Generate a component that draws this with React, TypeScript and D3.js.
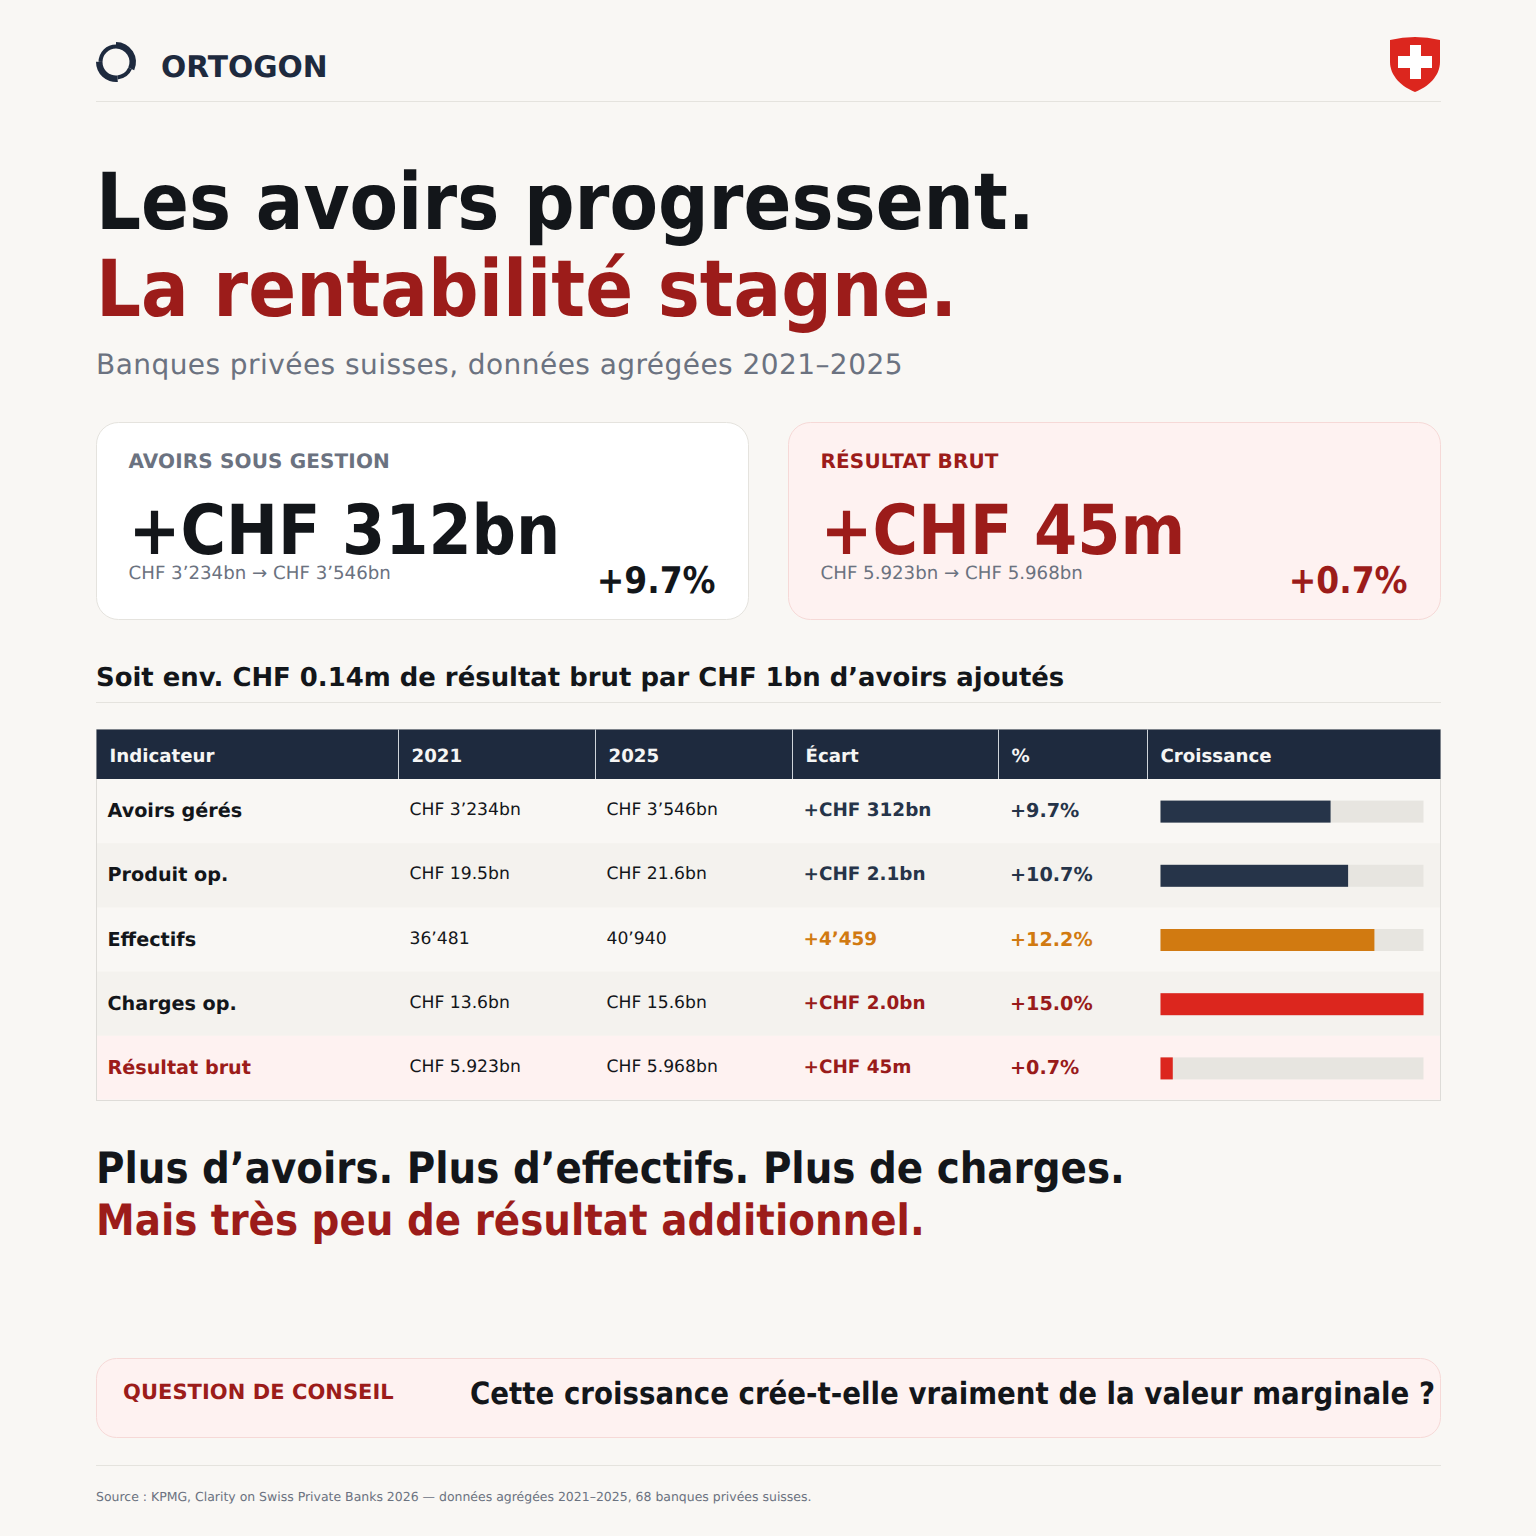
import * as d3 from "d3";

const indicators = ["Avoirs gérés", "Produit op.", "Effectifs", "Charges op.", "Résultat brut"];
const values2021 = ["CHF 3’234bn", "CHF 19.5bn", "36’481", "CHF 13.6bn", "CHF 5.923bn"];
const values2025 = ["CHF 3’546bn", "CHF 21.6bn", "40’940", "CHF 15.6bn", "CHF 5.968bn"];
const gaps = ["+CHF 312bn", "+CHF 2.1bn", "+4’459", "+CHF 2.0bn", "+CHF 45m"];
const growth = [9.7, 10.7, 12.2, 15.0, 0.7];
const headers = ["Indicateur", "2021", "2025", "Écart", "%", "Croissance"];
const textTones = ["#263449", "#263449", "#d17a11", "#991b1b", "#991b1b"];
const barTones = ["#263449", "#263449", "#d17a11", "#dc261e", "#dc261e"];

const SANS = "'DejaVu Sans', sans-serif";
const COND = "'DejaVu Sans Condensed', 'DejaVu Sans', sans-serif";
const INK = "#13161a";
const RED = "#9c1c1a";
const GREY = "#6b7280";
const RULE = "#e5e3de";
const BLUSH = "#fef2f1";
const NAVY = "#1e2a3e";

const COLS = [96.5, 398.5, 595.5, 792.5, 998.5, 1147.5, 1440.5];
const rowY = d3.scaleBand<number>().domain(d3.range(5)).range([779, 1100]);
const barX = d3.scaleLinear().domain([0, 15]).range([1160.5, 1423.5]);

const ringArc = d3.arc<{ a: number; b: number; r: number }>()
  .innerRadius(13.5)
  .outerRadius(d => d.r)
  .startAngle(d => d.a)
  .endAngle(d => d.b);
const ringParts = [
  { a: 0, b: 2.0, r: 20 },
  { a: 2.0, b: 3.05, r: 17.5 },
  { a: 3.05, b: 4.72, r: 20 },
  { a: 4.72, b: 6.2832, r: 17.5 },
];

const KpiCard = ({ x, label, big, sub, pct, accent, fill, stroke, labelFill }: {
  x: number; label: string; big: string; sub: string; pct: string; accent: string; fill: string; stroke: string; labelFill: string;
}) => (
  <g transform={`translate(${x},0)`}>
    <rect x={0.5} y={422.5} width={652} height={197} rx={22} fill={fill} stroke={stroke} />
    <text x={32.5} y={468} fontSize={20} letterSpacing={0.14} fontWeight={700} fill={labelFill}>{label}</text>
    <text x={32.5} y={554} fontFamily={COND} fontSize={69} fontWeight={700} fill={accent}>{big}</text>
    <text x={32.5} y={579} fontSize={18.2} fill={GREY}>{sub}</text>
    <text x={619.5} y={592.5} fontFamily={COND} fontSize={36.6} fontWeight={700} fill={accent} textAnchor="end">{pct}</text>
  </g>
);

export default function App() {
  return (
    <svg width={1536} height={1536} viewBox="0 0 1536 1536" fontFamily={SANS} textRendering="geometricPrecision"
      style={{ position: "absolute", left: 0, top: 0, display: "block" }}>
      <rect width={1536} height={1536} fill="#f9f7f4" />

      {/* header */}
      <g transform="translate(116,62)" fill={NAVY}>
        {ringParts.map((p, i) => <path key={i} d={ringArc(p) ?? ""} />)}
      </g>
      <text x={161} y={77} fontSize={29.7} fontWeight={700} fill={NAVY}>ORTOGON</text>
      <path d="M1390 40Q1415 34 1440 40V62C1440 76 1428 87 1415 92C1402 87 1390 76 1390 62Z" fill="#dc261e" />
      <path d="M1410 45H1421V56H1432V68H1421V79H1410V68H1398V56H1410Z" fill="#fff" />
      <line x1={96} x2={1441} y1={101.5} y2={101.5} stroke={RULE} />

      {/* title */}
      <text x={96} y={229} fontFamily={COND} fontSize={78.6} fontWeight={700} fill={INK}>Les avoirs progressent.</text>
      <text x={96} y={316} fontFamily={COND} fontSize={78.6} fontWeight={700} fill={RED}>La rentabilité stagne.</text>
      <text x={96} y={374} fontSize={28} letterSpacing={0.44} fill={GREY}>Banques privées suisses, données agrégées 2021–2025</text>

      <KpiCard x={96} label="AVOIRS SOUS GESTION" big="+CHF 312bn" sub="CHF 3’234bn → CHF 3’546bn" pct="+9.7%"
        accent={INK} fill="#ffffff" stroke={RULE} labelFill={GREY} />
      <KpiCard x={788} label="RÉSULTAT BRUT" big="+CHF 45m" sub="CHF 5.923bn → CHF 5.968bn" pct="+0.7%"
        accent={RED} fill={BLUSH} stroke="#f6d9d7" labelFill={RED} />

      <text x={96} y={686} fontSize={25.92} fontWeight={700} fill={INK}>Soit env. CHF 0.14m de résultat brut par CHF 1bn d’avoirs ajoutés</text>
      <line x1={96} x2={1441} y1={702.5} y2={702.5} stroke={RULE} />

      {/* table */}
      <rect x={96.5} y={729.5} width={1344} height={371} fill="#f9f7f4" stroke="#dedcd8" />
      <rect x={96.5} y={729.5} width={1344} height={49.5} fill={NAVY} />
      {headers.map((h, i) => (
        <text key={h} x={COLS[i] + 13} y={762} fontSize={18.2} fontWeight={700} fill="#f5f5f4">{h}</text>
      ))}
      {COLS.slice(1, 6).map(x => <line key={x} x1={x} x2={x} y1={729.5} y2={779} stroke="#cfd4da" />)}
      {indicators.map((name, i) => {
        const y = rowY(i) as number;
        const h = rowY.bandwidth();
        const last = i === indicators.length - 1;
        const bg = last ? BLUSH : i % 2 === 1 ? "#f4f2ee" : "none";
        const nameFill = last ? RED : INK;
        const mid = y + h / 2;
        return (
          <g key={name}>
            <rect x={97} y={y} width={1343} height={h - (last ? 0.5 : 0)} fill={bg} />
            <text x={107.5} y={mid + 6} fontSize={19.2} fontWeight={700} fill={nameFill}>{name}</text>
            <text x={409.5} y={mid + 4} fontSize={17.2} fill={INK}>{values2021[i]}</text>
            <text x={606.5} y={mid + 4} fontSize={17.2} fill={INK}>{values2025[i]}</text>
            <text x={803.5} y={mid + 5} fontSize={18.4} fontWeight={700} fill={textTones[i]}>{gaps[i]}</text>
            <text x={1010} y={mid + 6} fontSize={19.2} fontWeight={700} fill={textTones[i]}>{`+${growth[i].toFixed(1)}%`}</text>
            <rect x={barX(0)} y={mid - 10.5} width={barX(15) - barX(0)} height={22} fill="#e7e5e0" />
            <rect x={barX(0)} y={mid - 10.5} width={barX(growth[i]) - barX(0)} height={22} fill={barTones[i]} />
          </g>
        );
      })}

      {/* takeaway */}
      <text x={96} y={1183} fontFamily={COND} fontSize={43.2} fontWeight={700} fill={INK}>Plus d’avoirs. Plus d’effectifs. Plus de charges.</text>
      <text x={96} y={1235} fontFamily={COND} fontSize={43.2} fontWeight={700} fill={RED}>Mais très peu de résultat additionnel.</text>

      {/* question */}
      <rect x={96.5} y={1358.5} width={1344} height={79} rx={20} fill={BLUSH} stroke="#f6d9d7" />
      <text x={123} y={1399} fontSize={21} letterSpacing={0.05} fontWeight={700} fill={RED}>QUESTION DE CONSEIL</text>
      <text x={470} y={1404} fontFamily={COND} fontSize={30.75} fontWeight={700} fill={INK}>Cette croissance crée-t-elle vraiment de la valeur marginale ?</text>

      <line x1={96} x2={1441} y1={1465.5} y2={1465.5} stroke={RULE} />
      <text x={96} y={1501} fontSize={12.47} fill={GREY}>Source : KPMG, Clarity on Swiss Private Banks 2026 — données agrégées 2021–2025, 68 banques privées suisses.</text>
    </svg>
  );
}
